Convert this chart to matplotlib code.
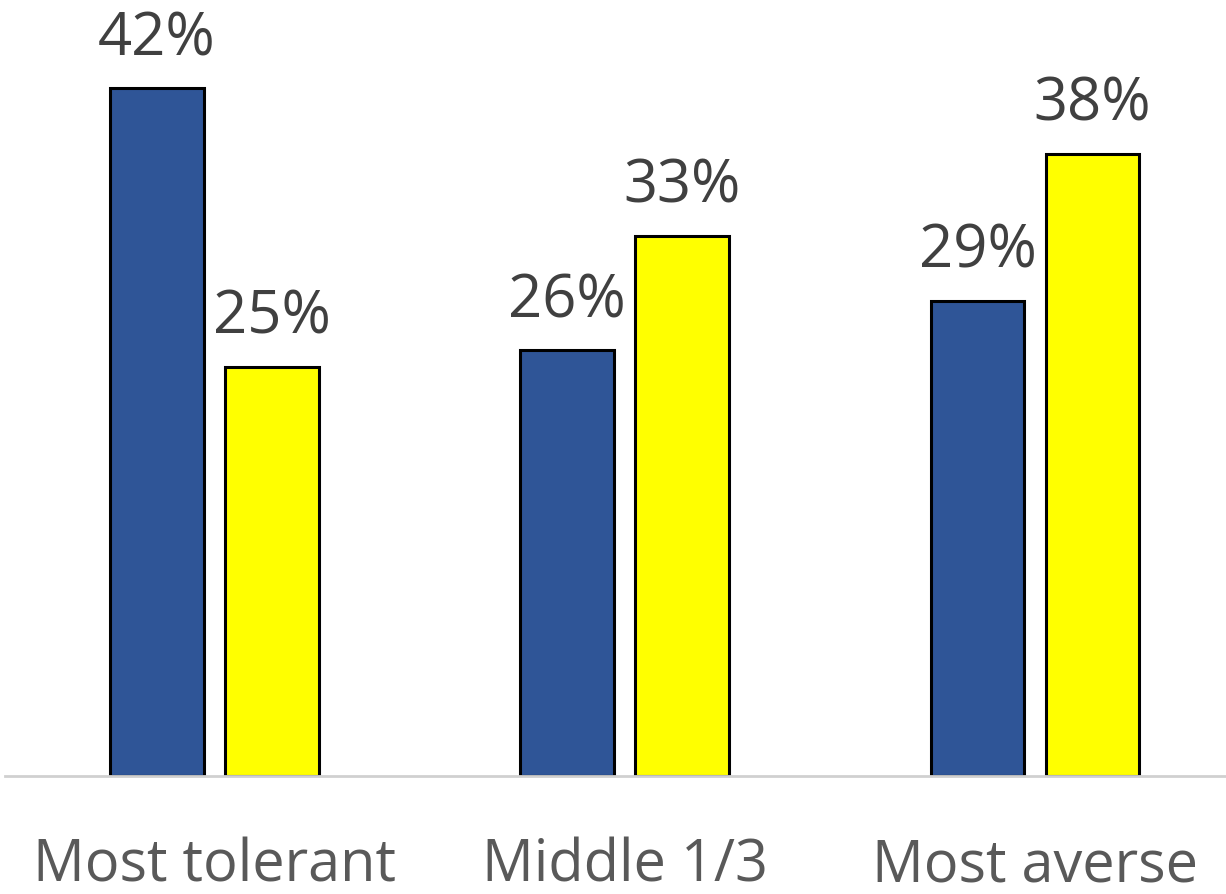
import numpy as np
import matplotlib.pyplot as plt

# Values (percent)
categories = ["Most tolerant", "Middle 1/3", "Most averse"]
series_blue = [42, 26, 29]
series_yellow = [25, 33, 38]

plt.rcParams['font.family'] = ['Open Sans', 'DejaVu Sans']

fig = plt.figure(figsize=(12.26, 8.94), dpi=100)
ax = fig.add_axes([5 / 1226, 1 - 776 / 894, 1 - 5 / 1226, 776 / 894])

x = np.arange(len(categories))
w = 0.228
off = 0.14
b1 = ax.bar(x - off, series_blue, w, color="#2f5597", edgecolor="black", linewidth=2.2)
b2 = ax.bar(x + off, series_yellow, w, color="#ffff00", edgecolor="black", linewidth=2.2)

for bars in (b1, b2):
    for rect in bars:
        h = rect.get_height()
        ax.annotate(f"{h:.0f}%", (rect.get_x() + rect.get_width() / 2, h),
                    xytext=(0, 24), textcoords="offset points",
                    ha="center", va="baseline", fontsize=43, color="#404040")

ax.set_xlim(-0.51, 2.465)
ax.set_ylim(0, 47.4)
ax.set_xticks(x)
ax.set_xticklabels(categories, fontsize=41.5, color="#595959")
ax.tick_params(axis="x", length=0, pad=44)
ax.set_yticks([])
for s in ["top", "left", "right"]:
    ax.spines[s].set_visible(False)
ax.spines["bottom"].set_color("#d0d0d0")
ax.spines["bottom"].set_linewidth(2)

fig.savefig("out.png", dpi=100)
